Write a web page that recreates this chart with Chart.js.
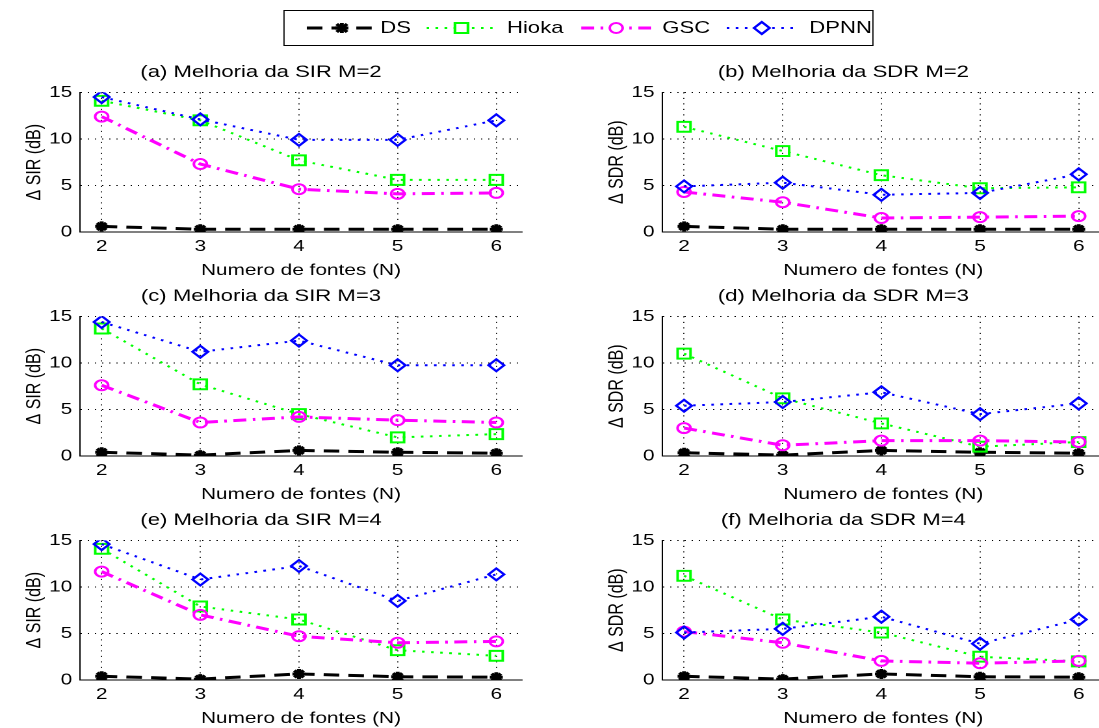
<!DOCTYPE html>
<html>
<head>
<meta charset="utf-8">
<script src="https://cdn.jsdelivr.net/npm/chart.js@4.4.1/dist/chart.umd.min.js"></script>
<style>
  html, body { margin: 0; padding: 0; background: #fff; overflow: hidden; width: 1099px; height: 728px; }
  /* the original figure is stretched horizontally, so the whole thing is drawn narrow and scaled */
  #fig { position: absolute; left: 0; top: 0; width: 880px; height: 728px; transform: scaleX(1.3); transform-origin: 0 0;
         font-family: "Liberation Sans", Arial, sans-serif; }
  .panel { position: absolute; }
  #legend { position: absolute; left: 217.7px; top: 10px; width: 454.6px; height: 36px; border: 1px solid #000; box-sizing: border-box; }
  .sample { position: absolute; top: 7px; }
  .name { position: absolute; top: 7px; font-size: 17px; line-height: 20px; color: #000; }
</style>
</head>
<body>
<div id="fig">
  <div id="legend"></div>
</div>
<script>
const fontes = [2, 3, 4, 5, 6];
const yTicks = [0, 5, 10, 15];
const seriesNames = ["DS", "Hioka", "GSC", "DPNN"];

const panelTitles = [
  "(a) Melhoria da SIR M=2",
  "(b) Melhoria da SDR M=2",
  "(c) Melhoria da SIR M=3",
  "(d) Melhoria da SDR M=3",
  "(e) Melhoria da SIR M=4",
  "(f) Melhoria da SDR M=4",
];
const xLabel = "Numero de fontes (N)";
const yLabels = ["\u0394 SIR (dB)", "\u0394 SDR (dB)"];

// (a) SIR, M=2
const sirM2DS = [0.6, 0.3, 0.3, 0.3, 0.3];
const sirM2Hioka = [14.1, 12.0, 7.7, 5.6, 5.6];
const sirM2GSC = [12.4, 7.3, 4.6, 4.1, 4.2];
const sirM2DPNN = [14.5, 12.1, 9.9, 9.9, 12.0];

// (b) SDR, M=2
const sdrM2DS = [0.6, 0.3, 0.3, 0.3, 0.3];
const sdrM2Hioka = [11.3, 8.7, 6.1, 4.7, 4.8];
const sdrM2GSC = [4.3, 3.2, 1.5, 1.6, 1.7];
const sdrM2DPNN = [4.9, 5.3, 4.0, 4.2, 6.2];

// (c) SIR, M=3
const sirM3DS = [0.4, 0.1, 0.6, 0.4, 0.3];
const sirM3Hioka = [13.7, 7.7, 4.5, 2.0, 2.35];
const sirM3GSC = [7.6, 3.6, 4.2, 3.85, 3.6];
const sirM3DPNN = [14.4, 11.2, 12.4, 9.75, 9.75];

// (d) SDR, M=3
const sdrM3DS = [0.35, 0.1, 0.6, 0.4, 0.3];
const sdrM3Hioka = [11.0, 6.2, 3.5, 1.0, 1.5];
const sdrM3GSC = [3.0, 1.15, 1.65, 1.65, 1.5];
const sdrM3DPNN = [5.4, 5.8, 6.85, 4.5, 5.65];

// (e) SIR, M=4
const sirM4DS = [0.4, 0.1, 0.65, 0.35, 0.3];
const sirM4Hioka = [14.1, 7.9, 6.5, 3.2, 2.6];
const sirM4GSC = [11.65, 7.0, 4.7, 4.0, 4.15];
const sirM4DPNN = [14.6, 10.8, 12.25, 8.5, 11.35];

// (f) SDR, M=4
const sdrM4DS = [0.4, 0.1, 0.65, 0.35, 0.3];
const sdrM4Hioka = [11.2, 6.5, 5.1, 2.5, 2.0];
const sdrM4GSC = [5.2, 4.0, 2.05, 1.8, 2.05];
const sdrM4DPNN = [5.1, 5.5, 6.8, 3.9, 6.5];

const panelData = [
  [sirM2DS, sirM2Hioka, sirM2GSC, sirM2DPNN],
  [sdrM2DS, sdrM2Hioka, sdrM2GSC, sdrM2DPNN],
  [sirM3DS, sirM3Hioka, sirM3GSC, sirM3DPNN],
  [sdrM3DS, sdrM3Hioka, sdrM3GSC, sdrM3DPNN],
  [sirM4DS, sirM4Hioka, sirM4GSC, sirM4DPNN],
  [sdrM4DS, sdrM4Hioka, sdrM4GSC, sdrM4DPNN],
];

// styles
const fontFamily = '"Liberation Sans", Arial, sans-serif';
const colors = ["#000000", "#00ff00", "#ff00ff", "#0000ff"];
const dashes = [[12, 7], [2, 5], [10, 5, 2, 5], [2, 5]];
const widths = [3, 2, 3, 2];
const pointStyles = ["star", "rect", "circle", "rectRot"];
const pointRadii = [5, 7, 5, 6];

const colLeft = [0, 447.7];
const rowTop = [55, 279, 503];
const canvasW = 420;
const canvasH = 225;

const fig = document.getElementById("fig");

panelData.forEach((series, p) => {
  const col = p % 2;
  const row = Math.floor(p / 2);

  const canvas = document.createElement("canvas");
  canvas.className = "panel";
  canvas.width = canvasW;
  canvas.height = canvasH;
  canvas.style.left = colLeft[col] + "px";
  canvas.style.top = rowTop[row] + "px";
  fig.appendChild(canvas);

  new Chart(canvas.getContext("2d"), {
    type: "line",
    data: {
      datasets: seriesNames.map((name, i) => ({
        label: name,
        data: fontes.map((x, k) => ({ x: x, y: series[i][k] })),
        borderColor: colors[i],
        backgroundColor: "rgba(0,0,0,0)",
        borderWidth: widths[i],
        borderDash: dashes[i],
        pointStyle: pointStyles[i],
        pointRadius: pointRadii[i],
        pointBorderWidth: i === 0 ? 3 : 2,
        pointBorderColor: colors[i],
        pointBackgroundColor: i === 0 ? "#000" : "rgba(0,0,0,0)",
        tension: 0,
        fill: false,
        order: 3 - i,
      })),
    },
    options: {
      responsive: false,
      animation: false,
      devicePixelRatio: 2,
      layout: { padding: { left: 0, right: 18.5, top: 0, bottom: 0 } },
      plugins: {
        legend: { display: false },
        tooltip: { enabled: false },
        title: {
          display: true,
          text: panelTitles[p],
          color: "#000",
          font: { family: fontFamily, size: 17, weight: "normal" },
          padding: { top: 7, bottom: 10 },
        },
      },
      scales: {
        x: {
          type: "linear",
          min: 1.78,
          max: 6.26,
          afterBuildTicks: (scale) => {
            scale.ticks = fontes.map((v) => ({ value: v }));
          },
          afterFit: (scale) => {
            scale.height = 48;
          },
          grid: { color: "#000", lineWidth: 1, drawTicks: false },
          border: { display: true, color: "#000", width: 1, dash: [1, 4.5] },
          ticks: {
            color: "#000",
            font: { family: fontFamily, size: 16 },
            padding: 5,
            maxRotation: 0,
            autoSkip: false,
          },
          title: {
            display: true,
            text: xLabel,
            color: "#000",
            font: { family: fontFamily, size: 16 },
            padding: { top: 0, bottom: 0 },
          },
        },
        y: {
          min: 0,
          max: 15,
          afterBuildTicks: (scale) => {
            scale.ticks = yTicks.map((v) => ({ value: v }));
          },
          afterFit: (scale) => {
            scale.width = 61.5;
          },
          grid: { color: "#000", lineWidth: 1, drawTicks: false },
          border: { display: true, color: "#000", width: 1, dash: [1, 4.5] },
          ticks: {
            color: "#000",
            font: { family: fontFamily, size: 16 },
            padding: 6,
          },
          title: {
            display: true,
            text: yLabels[col],
            color: "#000",
            font: { family: fontFamily, size: 16 },
            padding: { top: 17, bottom: 0 },
          },
        },
      },
    },
  });
});

// legend: line sample + marker + name for each series
const sampleLeft = [16.9, 109.3, 228.3, 340];
const nameLeft = [73.8, 171.3, 290.8, 403.8];

function markerSvg(i, cx, cy) {
  const c = colors[i];
  if (i === 0) {
    return `<g stroke="${c}" stroke-width="3"><line x1="${cx - 5}" y1="${cy}" x2="${cx + 5}" y2="${cy}"/><line x1="${cx}" y1="${cy - 5}" x2="${cx}" y2="${cy + 5}"/><line x1="${cx - 4}" y1="${cy - 4}" x2="${cx + 4}" y2="${cy + 4}"/><line x1="${cx - 4}" y1="${cy + 4}" x2="${cx + 4}" y2="${cy - 4}"/></g>`;
  }
  if (i === 1) {
    return `<rect x="${cx - 5}" y="${cy - 5}" width="10" height="10" fill="#fff" stroke="${c}" stroke-width="2"/>`;
  }
  if (i === 2) {
    return `<circle cx="${cx}" cy="${cy}" r="5" fill="#fff" stroke="${c}" stroke-width="2"/>`;
  }
  return `<polygon points="${cx},${cy - 6} ${cx + 6},${cy} ${cx},${cy + 6} ${cx - 6},${cy}" fill="#fff" stroke="${c}" stroke-width="2"/>`;
}

const legend = document.getElementById("legend");
seriesNames.forEach((name, i) => {
  const w = 54;
  const svg = document.createElement("div");
  svg.className = "sample";
  svg.style.left = sampleLeft[i] + "px";
  svg.innerHTML =
    `<svg width="${w}" height="20"><line x1="0" y1="10" x2="${w}" y2="10" stroke="${colors[i]}" stroke-width="${widths[i]}" stroke-dasharray="${dashes[i].join(" ")}"/>` +
    markerSvg(i, w / 2, 10) + `</svg>`;
  legend.appendChild(svg);

  const label = document.createElement("div");
  label.className = "name";
  label.style.left = nameLeft[i] + "px";
  label.textContent = name;
  legend.appendChild(label);
});
</script>
</body>
</html>
